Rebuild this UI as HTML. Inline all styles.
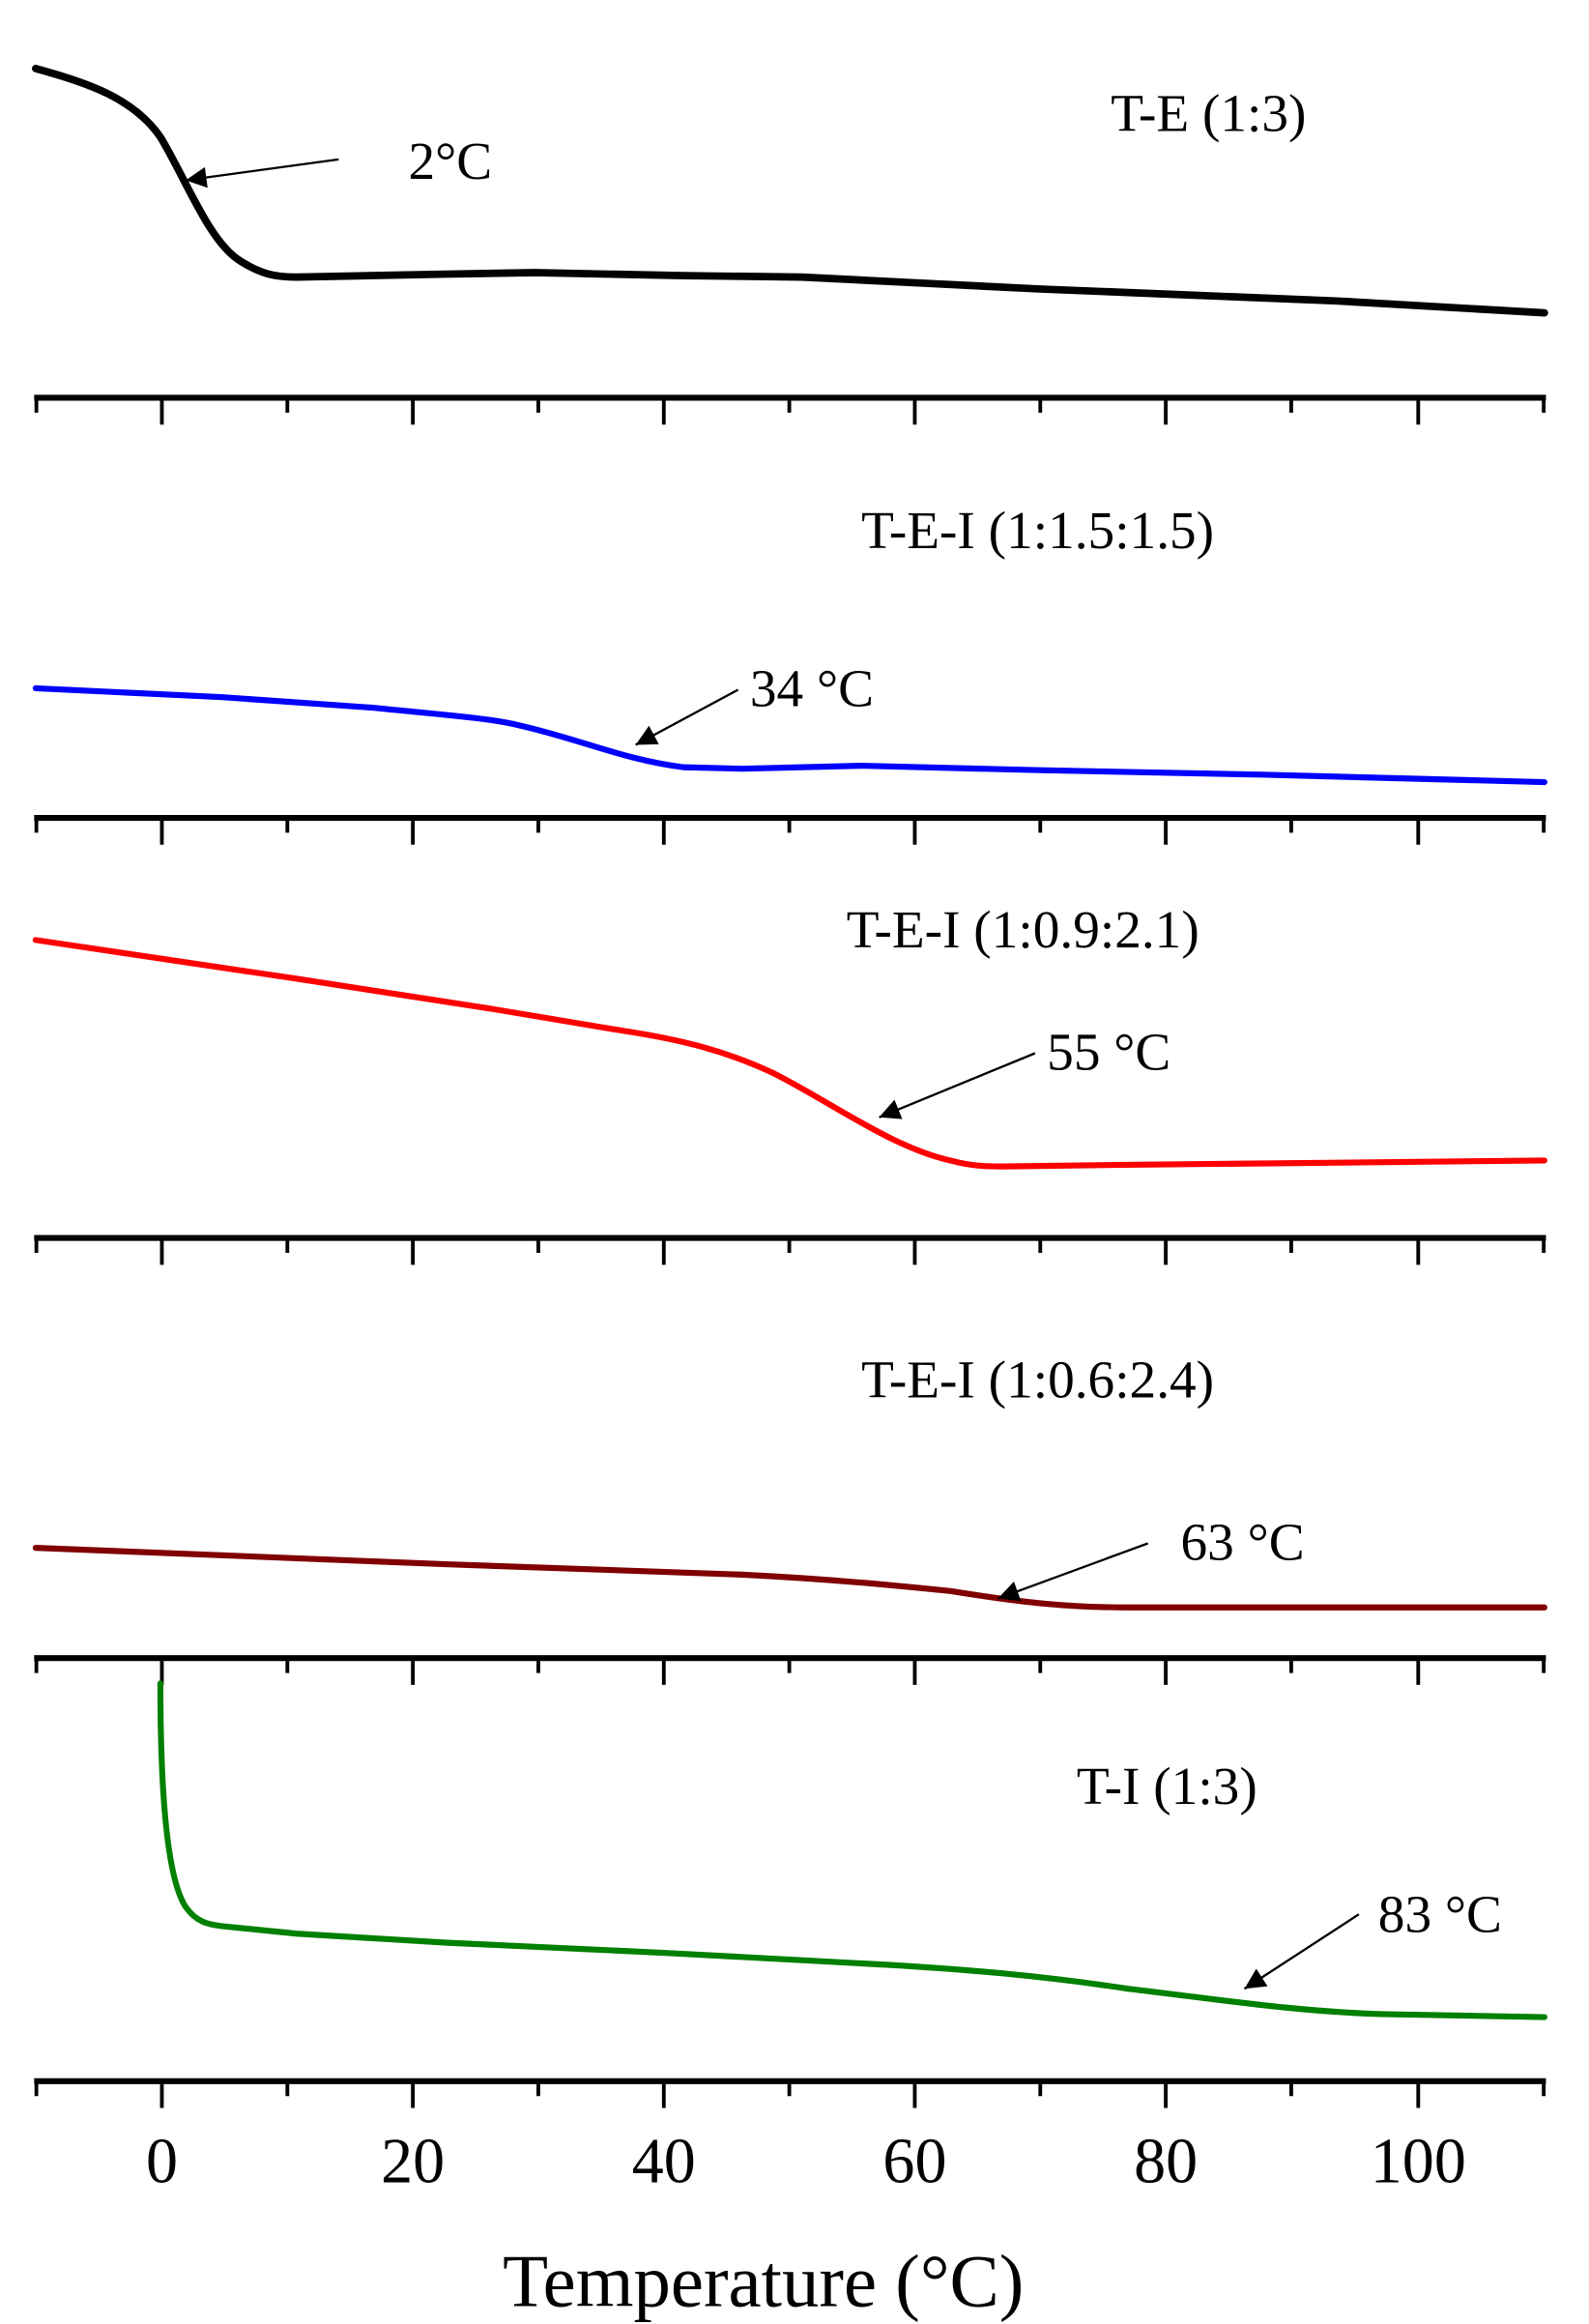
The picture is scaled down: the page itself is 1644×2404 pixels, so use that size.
<!DOCTYPE html>
<html><head><meta charset="utf-8"><style>
html,body{margin:0;padding:0;background:#fff;}
svg{display:block;}
text{font-family:"Liberation Serif",serif;}
</style></head><body>
<svg width="1644" height="2404" viewBox="0 0 1070 1560" preserveAspectRatio="none" xmlns="http://www.w3.org/2000/svg">
<defs>
<marker id="ah" viewBox="0 0 10 10" refX="10" refY="5" markerWidth="22" markerHeight="14" markerUnits="userSpaceOnUse" orient="auto"><path d="M0,0 L10,5 L0,10 z" fill="#000"/></marker>
</defs>
<g stroke="#000" fill="none">
<g transform="translate(0,267)"><line x1="23" y1="0" x2="1041" y2="0" stroke-width="4"/><path d="M24.5,0v10 M109,0v18 M193.5,0v10 M278,0v18 M362.5,0v10 M447,0v18 M531.5,0v10 M616,0v18 M700.5,0v10 M785,0v18 M869.5,0v10 M955,0v18 M1039.5,0v10" stroke-width="2.5"/></g>
<g transform="translate(0,549)"><line x1="23" y1="0" x2="1041" y2="0" stroke-width="4"/><path d="M24.5,0v10 M109,0v18 M193.5,0v10 M278,0v18 M362.5,0v10 M447,0v18 M531.5,0v10 M616,0v18 M700.5,0v10 M785,0v18 M869.5,0v10 M955,0v18 M1039.5,0v10" stroke-width="2.5"/></g>
<g transform="translate(0,831)"><line x1="23" y1="0" x2="1041" y2="0" stroke-width="4"/><path d="M24.5,0v10 M109,0v18 M193.5,0v10 M278,0v18 M362.5,0v10 M447,0v18 M531.5,0v10 M616,0v18 M700.5,0v10 M785,0v18 M869.5,0v10 M955,0v18 M1039.5,0v10" stroke-width="2.5"/></g>
<g transform="translate(0,1113)"><line x1="23" y1="0" x2="1041" y2="0" stroke-width="4"/><path d="M24.5,0v10 M109,0v18 M193.5,0v10 M278,0v18 M362.5,0v10 M447,0v18 M531.5,0v10 M616,0v18 M700.5,0v10 M785,0v18 M869.5,0v10 M955,0v18 M1039.5,0v10" stroke-width="2.5"/></g>
<g transform="translate(0,1397)"><line x1="23" y1="0" x2="1041" y2="0" stroke-width="4"/><path d="M24.5,0v10 M109,0v18 M193.5,0v10 M278,0v18 M362.5,0v10 M447,0v18 M531.5,0v10 M616,0v18 M700.5,0v10 M785,0v18 M869.5,0v10 M955,0v18 M1039.5,0v10" stroke-width="2.5"/></g>
</g>
<g fill="none" stroke-width="4" stroke-linejoin="round" stroke-linecap="round">
<path stroke="#000" stroke-width="5" d="M24,46 C60,56 90,66 108,92 C125,120 140,160 160,174 C175,184 185,186 200,186 L300,184 L360,183 L460,185 L540,186 L620,190 L700,194 L800,198 L900,202 L1040,210"/>
<path stroke="#0000ff" d="M24,462 L150,468 L250,475 C300,480 330,482 350,487 C390,496 420,510 460,515 L500,516 L580,514 L700,517 L850,520 L1040,525"/>
<path stroke="#ff0000" d="M24,631 L200,657 L330,677 L420,692 C460,698 490,706 520,720 C560,740 600,770 640,779 C655,783 665,783 675,783 L750,782 L1040,779"/>
<path stroke="#800000" d="M24,1039 L300,1050 L500,1057 C560,1060 600,1064 640,1068 C690,1076 720,1079 760,1079 L1040,1079"/>
<path stroke="#008000" d="M108,1130 C108,1200 112,1260 125,1280 C132,1290 140,1292 150,1293 L200,1298 L300,1304 L450,1311 L600,1319 C650,1322 700,1326 760,1335 C820,1342 870,1350 930,1352 L1040,1354"/>
</g>
<g stroke="#000" stroke-width="1.5" marker-end="url(#ah)">
<line x1="228" y1="107" x2="125" y2="121"/>
<line x1="497" y1="463" x2="428" y2="500"/>
<line x1="697" y1="707" x2="592" y2="750"/>
<line x1="773" y1="1036" x2="672" y2="1073"/>
<line x1="915" y1="1285" x2="838" y2="1335"/>
</g>
<g font-size="36" fill="#000">
<text x="275" y="120">2°C</text>
<text x="748" y="88">T-E (1:3)</text>
<text x="505" y="474">34 °C</text>
<text x="580" y="368">T-E-I (1:1.5:1.5)</text>
<text x="705" y="718">55 °C</text>
<text x="570" y="636">T-E-I (1:0.9:2.1)</text>
<text x="795" y="1047">63 °C</text>
<text x="580" y="938">T-E-I (1:0.6:2.4)</text>
<text x="928" y="1297">83 °C</text>
<text x="725" y="1211">T-I (1:3)</text>
</g>
<g font-size="43" fill="#000" text-anchor="middle">
<text x="109" y="1465">0</text>
<text x="278" y="1465">20</text>
<text x="447" y="1465">40</text>
<text x="616" y="1465">60</text>
<text x="785" y="1465">80</text>
<text x="955" y="1465">100</text>
<text x="514" y="1548" font-size="50">Temperature (°C)</text>
</g>
</svg>
</body></html>
